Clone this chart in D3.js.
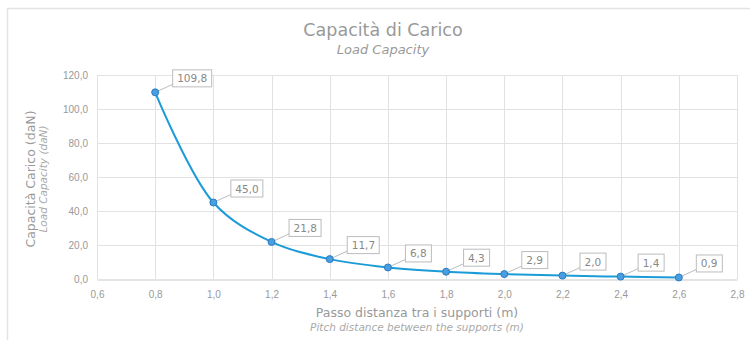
<!DOCTYPE html>
<html>
<head>
<meta charset="utf-8">
<script src="https://d3js.org/d3.v7.min.js"></script>
<style>
  body { margin: 0; background: #fff; }
  svg { font-family: 'Century Gothic', 'DejaVu Sans', sans-serif; }
  .tick text { fill: #999; font-size: 10px; }
  .lbl text { fill: #888; font-size: 10.5px; }
</style>
</head>
<body>
<script>
// data
var passo = [0.8, 1.0, 1.2, 1.4, 1.6, 1.8, 2.0, 2.2, 2.4, 2.6];
var carico = [109.8, 45.0, 21.8, 11.7, 6.8, 4.3, 2.9, 2.0, 1.4, 0.9];
var xTicks = [0.6, 0.8, 1.0, 1.2, 1.4, 1.6, 1.8, 2.0, 2.2, 2.4, 2.6, 2.8];
var yTicks = [0, 20, 40, 60, 80, 100, 120];

var w = 750, h = 340,
    mLeft = 97, mRight = 737, mTop = 75, mBottom = 279;

var fmt1 = function(v) { return d3.format('.1f')(v).replace('.', ','); };

var svg = d3.select('body').append('svg')
  .attr('width', w)
  .attr('height', h);

// outer chart frame (only top and left visible)
svg.append('rect')
  .attr('x', 7.5).attr('y', 8.5)
  .attr('width', w + 10).attr('height', h + 10)
  .attr('fill', 'none')
  .attr('stroke', '#e3e3e3')
  .attr('stroke-width', 1.5);

var x = d3.scaleLinear().domain([0.6, 2.8]).range([mLeft, mRight]);
var y = d3.scaleLinear().domain([0, 120]).range([mBottom, mTop]);

// grid
svg.append('g').selectAll('line').data(xTicks).enter().append('line')
  .attr('x1', function(d) { return Math.round(x(d)) + 0.5; })
  .attr('x2', function(d) { return Math.round(x(d)) + 0.5; })
  .attr('y1', mTop).attr('y2', mBottom)
  .attr('stroke', '#e2e2e2');
svg.append('g').selectAll('line').data(yTicks.slice(1)).enter().append('line')
  .attr('x1', mLeft).attr('x2', mRight)
  .attr('y1', function(d) { return Math.round(y(d)) + 0.5; })
  .attr('y2', function(d) { return Math.round(y(d)) + 0.5; })
  .attr('stroke', '#e2e2e2');

// axes
var xAxis = svg.append('g')
  .attr('transform', 'translate(0,' + (mBottom + 0.5) + ')')
  .call(d3.axisBottom(x).tickValues(xTicks).tickFormat(fmt1).tickSize(0).tickPadding(11));
xAxis.select('.domain').attr('stroke', '#c8c8c8');

var yAxis = svg.append('g')
  .attr('transform', 'translate(' + mLeft + ',0)')
  .call(d3.axisLeft(y).tickValues(yTicks).tickFormat(fmt1).tickSize(0).tickPadding(9));
yAxis.select('.domain').remove();

// titles
svg.append('text').attr('x', 383).attr('y', 36)
  .attr('text-anchor', 'middle').attr('fill', '#999').attr('font-size', 17.5)
  .text('Capacità di Carico');
svg.append('text').attr('x', 383).attr('y', 54)
  .attr('text-anchor', 'middle').attr('fill', '#999').attr('font-size', 13)
  .attr('font-style', 'italic')
  .text('Load Capacity');

svg.append('text').attr('x', 417).attr('y', 317)
  .attr('text-anchor', 'middle').attr('fill', '#999').attr('font-size', 12.5)
  .text('Passo distanza tra i supporti (m)');
svg.append('text').attr('x', 417).attr('y', 331)
  .attr('text-anchor', 'middle').attr('fill', '#aaa').attr('font-size', 10.5)
  .attr('font-style', 'italic')
  .text('Pitch distance between the supports (m)');

svg.append('text')
  .attr('transform', 'translate(35,179) rotate(-90)')
  .attr('text-anchor', 'middle').attr('fill', '#999').attr('font-size', 12.5)
  .text('Capacità Carico (daN)');
svg.append('text')
  .attr('transform', 'translate(47,179) rotate(-90)')
  .attr('text-anchor', 'middle').attr('fill', '#aaa').attr('font-size', 10.5)
  .attr('font-style', 'italic')
  .text('Load Capacity (daN)');

var pts = passo.map(function(d, i) { return [d, carico[i]]; });

// curve
var line = d3.line()
  .x(function(d) { return x(d[0]); })
  .y(function(d) { return y(d[1]); })
  .curve(d3.curveCatmullRom.alpha(0.5));

svg.append('path').datum(pts)
  .attr('d', line)
  .attr('fill', 'none')
  .attr('stroke', '#1b9bd7')
  .attr('stroke-width', 2);

// data labels with leader lines
var lbl = svg.append('g').attr('class', 'lbl').selectAll('g').data(pts).enter().append('g')
  .attr('transform', function(d) { return 'translate(' + x(d[0]) + ',' + y(d[1]) + ')'; });

lbl.append('text')
  .attr('x', 22).attr('y', -10)
  .text(function(d) { return fmt1(d[1]); })
  .each(function(d) { d.tw = this.getComputedTextLength(); });

lbl.insert('rect', 'text')
  .attr('x', 17.5).attr('y', -22.5)
  .attr('width', function(d) { return Math.round(d.tw) + 9; })
  .attr('height', 17)
  .attr('fill', '#fff')
  .attr('stroke', '#bcbcbc');

lbl.insert('line', 'rect')
  .attr('x1', 0).attr('y1', 0)
  .attr('x2', 17.5).attr('y2', -8)
  .attr('stroke', '#bcbcbc');

// markers
svg.append('g').selectAll('circle').data(pts).enter().append('circle')
  .attr('cx', function(d) { return x(d[0]); })
  .attr('cy', function(d) { return y(d[1]); })
  .attr('r', 3.5)
  .attr('fill', '#4a9ee0')
  .attr('stroke', '#2a7cc0')
  .attr('stroke-width', 1);
</script>
</body>
</html>
